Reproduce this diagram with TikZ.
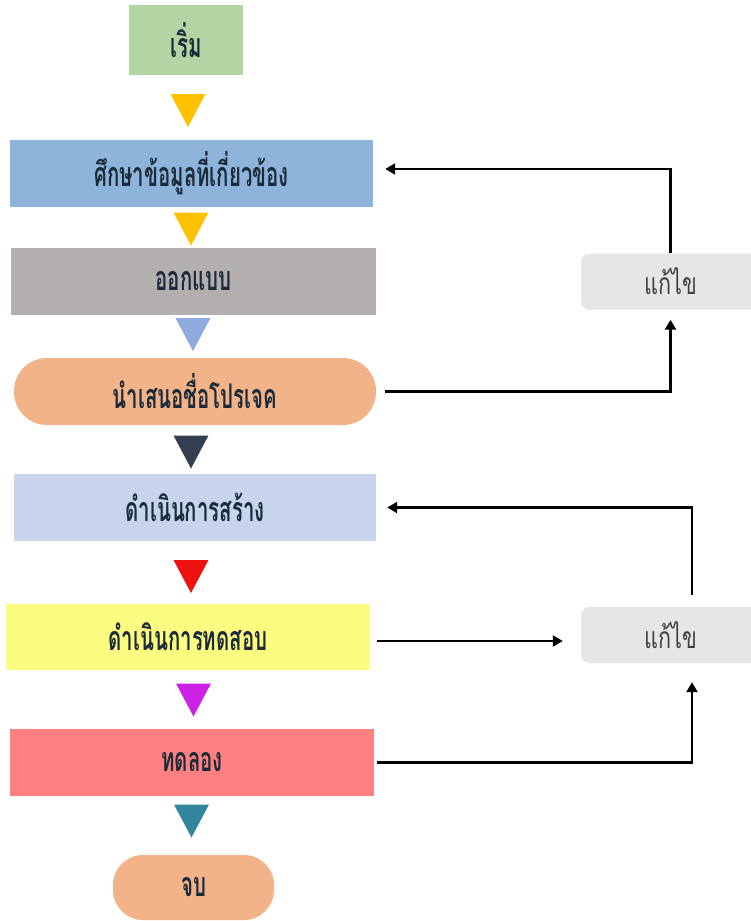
\documentclass[tikz,border=0pt]{standalone}
\usepackage{fontspec}
\newfontfamily\thaifont[Script=Thai,FakeStretch=0.6]{Loma}
\newfontfamily\thaifixfont[Script=Thai,FakeStretch=0.72]{Loma}
\usetikzlibrary{arrows.meta}

\definecolor{cStart}{HTML}{B2D5A3}
\definecolor{cStudy}{HTML}{8FB4DC}
\definecolor{cDesign}{HTML}{B3AFAF}
\definecolor{cPeach}{HTML}{F3B388}
\definecolor{cBuild}{HTML}{C7D4EC}
\definecolor{cTest}{HTML}{FCFC80}
\definecolor{cTrial}{HTML}{FF8080}
\definecolor{cFix}{HTML}{E6E6E6}
\definecolor{cInk}{HTML}{1C2B3A}
\definecolor{cFixInk}{HTML}{404040}
\definecolor{tGold}{HTML}{FFC000}
\definecolor{tSky}{HTML}{8FAADC}
\definecolor{tNavy}{HTML}{333F50}
\definecolor{tRed}{HTML}{EE1111}
\definecolor{tMagenta}{HTML}{CC22E6}
\definecolor{tTeal}{HTML}{31859C}

\tikzset{
  stepbox/.style={rectangle, inner sep=0pt, text=cInk,
    font=\thaifont\bfseries\fontsize{34}{36}\selectfont},
  fixbox/.style={rectangle, rounded corners=8pt, fill=cFix, inner sep=0pt,
    minimum width=179pt, minimum height=56pt, text=cFixInk,
    font=\thaifixfont\fontsize{30}{34}\selectfont},
  arr/.style={draw=black, line width=2.3pt, -{Triangle[length=10pt,width=11pt]}},
  downtri/.pic={\fill (-17.5,-16.5) -- (17.5,-16.5) -- (0,16.5) -- cycle;}
}

\begin{document}
\begin{tikzpicture}[x=1pt,y=-1pt]
\useasboundingbox (0,0) rectangle (751,921);

% main flow
\node[stepbox, fill=cStart, minimum width=114pt, minimum height=70pt] (start) at (186,40) {เริ่ม};
\node[stepbox, fill=cStudy, minimum width=363pt, minimum height=67pt] (study) at (191.5,173.5) {ศึกษาข้อมูลที่เกี่ยวข้อง};
\node[stepbox, fill=cDesign, minimum width=365pt, minimum height=67pt] (design) at (193.5,281.5) {ออกแบบ};
\node[stepbox, fill=cPeach, rounded corners=33pt, minimum width=362pt, minimum height=67pt] (propose) at (195,391.5) {นำเสนอชื่อโปรเจค};
\node[stepbox, fill=cBuild, minimum width=362pt, minimum height=67pt] (build) at (195,507.5) {ดำเนินการสร้าง};
\node[stepbox, fill=cTest, minimum width=364pt, minimum height=66pt] (test) at (188,637) {ดำเนินการทดสอบ};
\node[stepbox, fill=cTrial, minimum width=364pt, minimum height=67pt] (trial) at (192,762.5) {ทดลอง};
\node[stepbox, fill=cPeach, rounded corners=30pt, minimum width=161pt, minimum height=65pt] (finish) at (193.5,887.5) {จบ};

% flow markers between the steps
\pic[fill=tGold]    at (188,110.5) {downtri};
\pic[fill=tGold]    at (191,229)   {downtri};
\pic[fill=tSky]     at (193,334.5) {downtri};
\pic[fill=tNavy]    at (191,452)   {downtri};
\pic[fill=tRed]     at (191,576.5) {downtri};
\pic[fill=tMagenta] at (193.5,700) {downtri};
\pic[fill=tTeal]    at (191.5,821) {downtri};

% revision boxes
\node[fixbox] (fixA) at (670.5,281.5) {แก้ไข};
\node[fixbox] (fixB) at (670.5,635) {แก้ไข};

% feedback loops
\coordinate (aTop) at ([yshift=4.5pt]study.east -| fixA.north);
\draw[arr] (fixA.north) -- (aTop) -- ([xshift=12pt,yshift=4.5pt]study.east);
\draw[arr, line width=3pt] ([xshift=9pt]propose.east) -| ([yshift=-10pt]fixA.south);

\draw[arr] ([xshift=7pt,yshift=-4pt]test.east) -- ([xshift=-18pt,yshift=-6pt]fixB.west);
\coordinate (bStart) at ([xshift=21.5pt,yshift=12pt]fixB.north);
\draw[arr] (bStart) |- ([xshift=11pt]build.east);
\draw[arr] ([xshift=3pt]trial.east) -| ([xshift=21.5pt,yshift=-19pt]fixB.south);
\end{tikzpicture}
\end{document}
